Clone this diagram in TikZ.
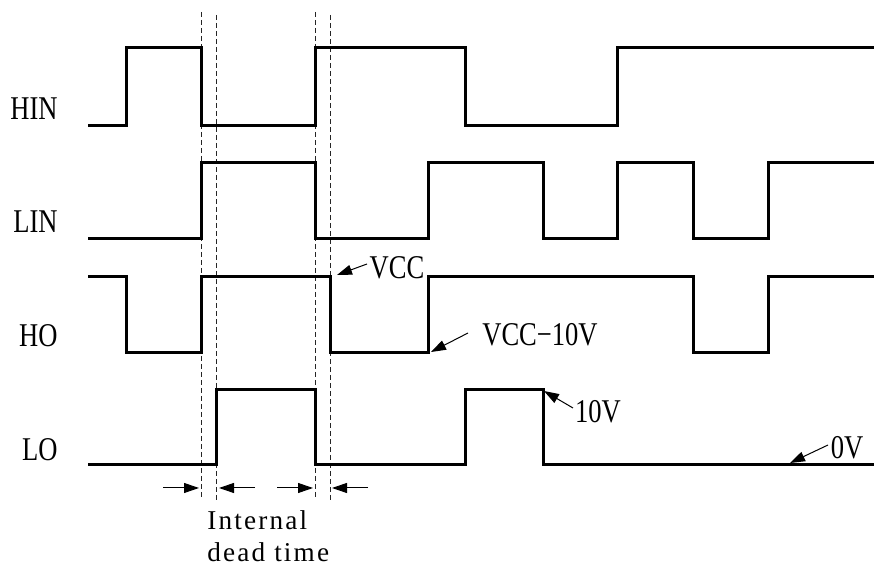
\documentclass[tikz,border=0pt]{standalone}
\usepackage{fontspec}
\setmainfont{Liberation Serif}
\newfontfamily\labfont[FakeStretch=0.8]{Liberation Serif}
\newfontfamily\notefont[LetterSpace=8]{Liberation Serif}
\usetikzlibrary{arrows.meta}
\begin{document}
\begin{tikzpicture}[x=0.5pt,y=-0.5pt,
  wave/.style={line width=1.5pt, line join=miter},
  guide/.style={line width=0.5pt, dash pattern=on 2.5pt off 1.5pt, black!85},
  marker/.style={-{Triangle[length=7.5pt,width=5pt]}, line width=0.5pt},
  lab/.style={font=\labfont\fontsize{16.6}{18}\selectfont, inner sep=0pt},
  note/.style={font=\notefont\fontsize{13.6}{16}\selectfont, inner sep=0pt, anchor=base west}]
\useasboundingbox (0,0) rectangle (874,565);

% signal names
\node[lab, anchor=east] (hin) at (58,109) {HIN};
\node[lab, anchor=east] (lin) at (58,222) {LIN};
\node[lab, anchor=east] (ho)  at (58,336) {HO};
\node[lab, anchor=east] (lo)  at (58,450) {LO};

% dashed guides
\draw[guide] (201.5,12) -- (201.5,500);
\draw[guide] (216.5,15) -- (216.5,500);
\draw[guide] (315,12) -- (315,500);
\draw[guide] (330,15) -- (330,500);

% waveforms
\draw[wave] (88,126) -- (126,126) -- (126,48) -- (201,48) -- (201,126) -- (315,126)
  -- (315,48) -- (465,48) -- (465,126) -- (617,126) -- (617,48) -- (874,48);
\draw[wave] (88,239) -- (201,239) -- (201,163) -- (315,163) -- (315,239) -- (428,239)
  -- (428,163) -- (543,163) -- (543,239) -- (617,239) -- (617,163) -- (693,163)
  -- (693,239) -- (768,239) -- (768,163) -- (874,163);
\draw[wave] (88,277) -- (126,277) -- (126,353) -- (201,353) -- (201,277) -- (330,277)
  -- (330,353) -- (428,353) -- (428,277) -- (693,277) -- (693,353) -- (768,353)
  -- (768,277) -- (874,277);
\draw[wave] (88,465) -- (216.5,465) -- (216.5,390) -- (315,390) -- (315,465) -- (465,465)
  -- (465,390) -- (543,390) -- (543,465) -- (874,465);

% dead time markers
\coordinate (d1a) at (163,488); \coordinate (d1b) at (199,488);
\coordinate (d2a) at (255,488); \coordinate (d2b) at (219,488);
\coordinate (d3a) at (277,488); \coordinate (d3b) at (313,488);
\coordinate (d4a) at (368,488); \coordinate (d4b) at (332,488);
\draw[marker] (d1a) -- (d1b);
\draw[marker] (d2a) -- (d2b);
\draw[marker] (d3a) -- (d3b);
\draw[marker] (d4a) -- (d4b);
\node[note] (n1) at (207,530) {Internal};
\node[note] (n2) at (207,562) {dead time};

% level labels
\node[lab] (vcc) at (397,268) {VCC};
\node[lab] (vcc10) at (540,335) {VCC−10V};
\node[lab] (v10) at (598,412) {10V};
\node[lab] (v0) at (847,448) {0V};
\coordinate (t1) at (367,264); \coordinate (p1) at (337,275);
\coordinate (t2) at (468,333); \coordinate (p2) at (431,352);
\coordinate (t3) at (573,408); \coordinate (p3) at (544,391);
\coordinate (t4) at (828,445); \coordinate (p4) at (790,463);
\draw[marker] (t1) -- (p1);
\draw[marker] (t2) -- (p2);
\draw[marker] (t3) -- (p3);
\draw[marker] (t4) -- (p4);
\end{tikzpicture}
\end{document}
